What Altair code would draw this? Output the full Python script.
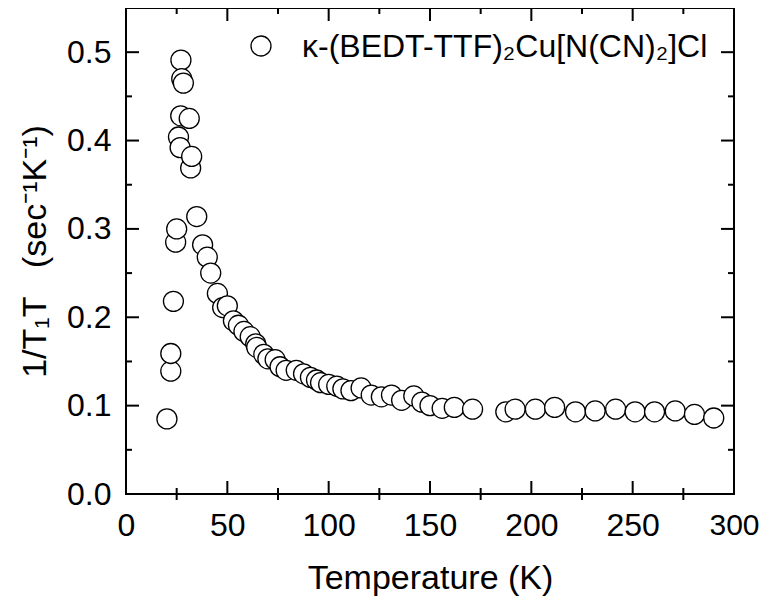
import altair as alt
import pandas as pd

# ---- data ----
temperature = [20.2, 22.1, 22.1, 23.4, 24.5, 25.0, 25.9, 26.7, 27.0, 27.1, 27.5, 28.3,
               31.2, 31.9, 32.4, 34.9, 37.8, 40.1, 41.8, 45.1, 47.7, 50.0, 53.0, 55.5,
               58.2, 61.3, 64.0, 64.5, 68.0, 70.0, 73.6, 76.0, 79.0, 84.0, 87.6, 91.0,
               94.0, 96.0, 100.0, 104.0, 107.0, 111.0, 116.0, 121.0, 126.0, 131.0, 136.0,
               142.0, 146.0, 150.0, 156.0, 162.0, 171.0, 187.4, 192.0, 202.0, 211.5,
               221.8, 231.5, 241.6, 251.2, 260.8, 271.0, 280.5, 290.0]
inv_t1t = [0.085, 0.139, 0.159, 0.218, 0.285, 0.300, 0.404, 0.392, 0.428, 0.491, 0.470, 0.465,
           0.425, 0.369, 0.382, 0.314, 0.282, 0.268, 0.250, 0.227, 0.211, 0.213, 0.196, 0.191,
           0.184, 0.178, 0.170, 0.166, 0.158, 0.153, 0.152, 0.144, 0.140, 0.140, 0.136, 0.132,
           0.129, 0.126, 0.124, 0.122, 0.119, 0.117, 0.120, 0.112, 0.110, 0.112, 0.106,
           0.111, 0.104, 0.100, 0.097, 0.098, 0.096, 0.093, 0.096, 0.096, 0.098,
           0.093, 0.094, 0.096, 0.093, 0.093, 0.094, 0.090, 0.086]
series_label = ["κ-(BEDT-TTF)₂Cu[N(CN)₂]Cl"]

x_major = [0, 50, 100, 150, 200, 250, 300]
x_minor = [25, 75, 125, 175, 225, 275]
y_major = [0.0, 0.1, 0.2, 0.3, 0.4, 0.5]
y_minor = [0.05, 0.15, 0.25, 0.35, 0.45]
x_domain = [0, 300]
y_domain = [0, 0.55]

df = pd.DataFrame({"T": temperature, "R": inv_t1t})
legend_df = pd.DataFrame({"label": series_label})
xmaj = pd.DataFrame({"v": x_major})
xmin = pd.DataFrame({"v": x_minor})
ymaj = pd.DataFrame({"v": y_major})
ymin = pd.DataFrame({"v": y_minor})

FONT = "Liberation Sans"
W, H = 608, 486
MAJ, MIN = 13, 6

xscale = alt.Scale(domain=x_domain, nice=False, zero=False)
yscale = alt.Scale(domain=y_domain, nice=False, zero=False)

x_axis = alt.Axis(
    orient="bottom", values=x_major, format="d", ticks=False, tickSize=0,
    domain=False, grid=False,
    labelFontSize=alt.condition("datum.value == 300", alt.value(30), alt.value(32)),
    labelFont=FONT,
    labelColor="black", labelPadding=16.6, labelFlush=False, labelOverlap=False,
    title="Temperature (K)", titleFont=FONT, titleFontSize=34,
    titleFontWeight="normal", titleColor="black", titleX=304, titleY=94,
    titleAlign="center", titleBaseline="alphabetic")
y_axis = alt.Axis(
    orient="left", values=y_major, format=".1f", ticks=False, tickSize=0,
    domain=False, grid=False, labelFontSize=32, labelFont=FONT,
    labelColor="black", labelPadding=15, labelOverlap=False,
    title="1/T₁T\u00a0\u00a0\u00a0(sec⁻¹K⁻¹)", titleFont=FONT, titleFontSize=34,
    titleFontWeight="normal", titleColor="black", titleAngle=270,
    titleX=-81, titleY=243, titleAlign="center", titleBaseline="alphabetic")

points = alt.Chart(df).mark_point(
    shape="circle", fill="white", stroke="black", strokeWidth=1.3, size=400,
    opacity=1, fillOpacity=1
).encode(
    x=alt.X("T:Q", scale=xscale, axis=x_axis),
    y=alt.Y("R:Q", scale=yscale, axis=y_axis),
)

rule = dict(color="black", strokeWidth=2)


def xticks(data, y0, y1):
    return alt.Chart(data).mark_rule(**rule).encode(
        x=alt.X("v:Q", scale=xscale, axis=x_axis),
        y=alt.value(y0), y2=alt.value(y1))


def yticks(data, x0, x1):
    return alt.Chart(data).mark_rule(**rule).encode(
        y=alt.Y("v:Q", scale=yscale, axis=y_axis),
        x=alt.value(x0), x2=alt.value(x1))


ticks = [
    xticks(xmaj, H - MAJ, H), xticks(xmaj, 0, MAJ),
    xticks(xmin, H - MIN, H + MIN), xticks(xmin, 0, MIN),
    yticks(ymaj, 0, MAJ), yticks(ymaj, W - MAJ, W),
    yticks(ymin, 0, MIN), yticks(ymin, W - MIN, W),
]

# legend drawn as a symbol + label at the upper left of the frame
legend_symbol = alt.Chart(legend_df).mark_point(
    shape="circle", fill="white", stroke="black", strokeWidth=1.3, size=400,
    opacity=1, fillOpacity=1
).encode(x=alt.value(135), y=alt.value(38))
legend_text = alt.Chart(legend_df).mark_text(
    font=FONT, fontSize=32, color="black", align="left", baseline="middle"
).encode(x=alt.value(176), y=alt.value(39), text="label:N")

chart = alt.layer(points, *ticks, legend_symbol, legend_text).properties(
    width=W, height=H,
    padding={"left": 118, "top": 0, "right": 25, "bottom": 103},
    autosize=alt.AutoSizeParams(type="none"),
    background="white",
).configure_view(stroke="black", strokeWidth=2)

chart.save("out.html", embed_options={"renderer": "svg", "actions": False})
